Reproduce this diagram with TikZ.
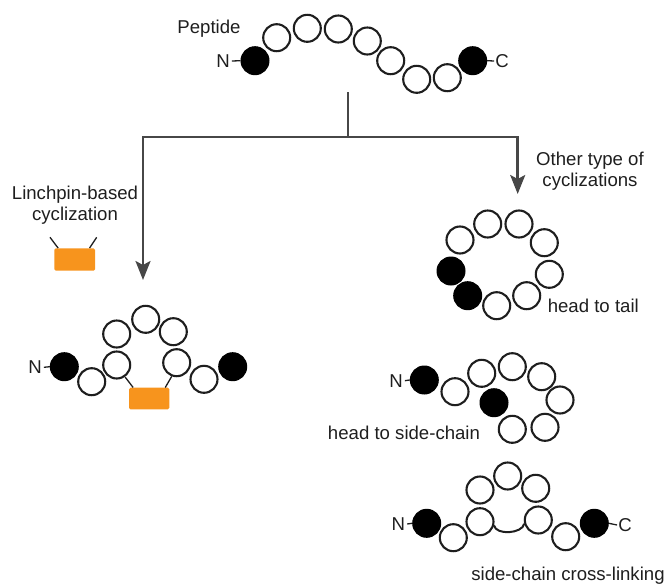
\documentclass[tikz,border=0pt]{standalone}
\usepackage{fontspec}
\setmainfont{Liberation Sans}
\usetikzlibrary{arrows.meta}
\definecolor{orng}{HTML}{F7941D}
\definecolor{connc}{HTML}{474747}
\definecolor{ink}{HTML}{1E1E1E}
\begin{document}
\begin{tikzpicture}[x=1pt,y=-1pt,
  res/.style={circle,draw=ink,line width=2.1pt,fill=white,minimum size=27pt,inner sep=0pt},
  term/.style={circle,draw=black,fill=black,line width=1pt,minimum size=28pt,inner sep=0pt},
  lbl/.style={font=\fontsize{18.6}{21}\selectfont,text=ink,inner sep=0pt,align=center},
  conn/.style={draw=connc,line width=2.5pt},
  tip/.style={-{Stealth[length=19pt,width=15pt,inset=4pt]}},
  pin/.style={fill=orng,rounded corners=1.5pt,inner sep=0pt},
  stick/.style={draw=ink,line width=1.3pt}]
\useasboundingbox (0,0) rectangle (665,584);

% ---------- linear peptide ----------
\node[lbl] (pep) at (209,29) {Peptide};
\node[term] (p0) at (255,60.7) {};
\node[res] (p1) at (276.7,37.7) {};
\node[res] (p2) at (307.3,28.3) {};
\node[res] (p3) at (338.3,29) {};
\node[res] (p4) at (367.3,41) {};
\node[res] (p5) at (390.7,60.7) {};
\node[res] (p6) at (416.7,79.3) {};
\node[res] (p7) at (447.3,77.7) {};
\node[term] (p8) at (472.7,60.7) {};
\node[lbl] (pN) at (223,61) {N};
\node[lbl] (pC) at (502,61) {C};
\draw[stick] ([xshift=2pt]pN.east) -- (p0.west);
\draw[stick] (p8.east) -- ([xshift=-1pt]pC.west);

% ---------- branching connectors ----------
\coordinate (s0) at (348,92);
\coordinate (s1) at (348,137);
\coordinate (tl) at (143,280);
\coordinate (tr) at (517.7,194);
\draw[conn] (s0) -- (s1);
\draw[conn,tip] (s1) -| (tl);
\draw[conn,tip] (s1) -| (tr);

% ---------- linchpin ----------
\node[lbl] (lpl) at (75,205.5) {Linchpin-based\\cyclization};
\node[pin,minimum width=40.7pt,minimum height=22.4pt] (lp) at (74.7,259.5) {};
\coordinate (la) at (50,237.3);
\coordinate (lb) at (96.7,237.3);
\draw[stick] (la) -- ([xshift=4pt]lp.north west);
\draw[stick] (lb) -- ([xshift=-5.7pt]lp.north east);

% ---------- linchpin-cyclized peptide ----------
\node[pin,minimum width=40.3pt,minimum height=21.6pt] (lq) at (149.2,398.5) {};
\node[lbl] (lN) at (35,367.3) {N};
\node[term] (l0) at (64.3,366.7) {};
\node[res] (l1) at (91.7,381.7) {};
\node[res] (l2) at (116.7,365) {};
\node[res] (l3) at (116.7,334) {};
\node[res] (l4) at (145.7,319.3) {};
\node[res] (l5) at (173.3,331.7) {};
\node[res] (l6) at (176.7,362.7) {};
\node[res] (l7) at (204,379.3) {};
\node[term] (l8) at (232.7,366.7) {};
\draw[stick] (l2.-55) -- ([xshift=4.3pt]lq.north west);
\draw[stick] (l6.-110) -- ([xshift=-4.3pt]lq.north east);
\draw[stick] ([xshift=2pt]lN.east) -- (l0.west);

% ---------- other cyclizations ----------
\node[lbl] (oth) at (590,170.7) {Other type of\\cyclizations};

% head to tail
\node[res] (h1) at (460,240) {};
\node[res] (h2) at (487.7,224) {};
\node[res] (h3) at (519,224) {};
\node[res] (h4) at (544.3,242.7) {};
\node[res] (h5) at (549.3,274.3) {};
\node[res] (h6) at (526.7,295.7) {};
\node[res] (h7) at (496.7,305.7) {};
\node[term] (h8) at (467.7,295.7) {};
\node[term] (h9) at (451,271) {};
\node[lbl] (htt) at (593.3,305.7) {head to tail};

% head to side-chain
\node[lbl] (sN) at (396,380.7) {N};
\node[term] (s0n) at (424.3,380) {};
\node[res] (sc1) at (455,391.7) {};
\node[res] (sc2) at (481.7,373.3) {};
\node[res] (sc3) at (512.3,366.7) {};
\node[res] (sc4) at (541.7,376.7) {};
\node[res] (sc5) at (560,400) {};
\node[res] (sc6) at (545,427.3) {};
\node[res] (sc7) at (512.3,429.3) {};
\node[term] (sc8) at (494,402.7) {};
\draw[stick] ([xshift=2pt]sN.east) -- (s0n.west);
\node[lbl] (hsc) at (404,433.3) {head to side-chain};

% side-chain cross-linking
\node[lbl] (xN) at (398.3,524) {N};
\node[term] (x0) at (426.7,523.3) {};
\node[res] (x1) at (453.3,537.7) {};
\node[res] (x2) at (480,521.7) {};
\node[res] (x3) at (480,490) {};
\node[res] (x4) at (507.7,476) {};
\node[res] (x5) at (535.7,488.3) {};
\node[res] (x6) at (538.3,520) {};
\node[res] (x7) at (565.7,536.7) {};
\node[term] (x8) at (594.3,523.3) {};
\node[lbl] (xC) at (625,525) {C};
\draw[stick] ([xshift=2pt]xN.east) -- (x0.west);
\draw[stick] (x8.east) -- ([xshift=-1pt]xC.west);
\draw[draw=ink,line width=2pt] (x2.-15) .. controls +(2,10) and +(-2,10) .. (x6.-165);
\node[lbl] (scl) at (568,576) {side-chain cross-linking};
\end{tikzpicture}
\end{document}
